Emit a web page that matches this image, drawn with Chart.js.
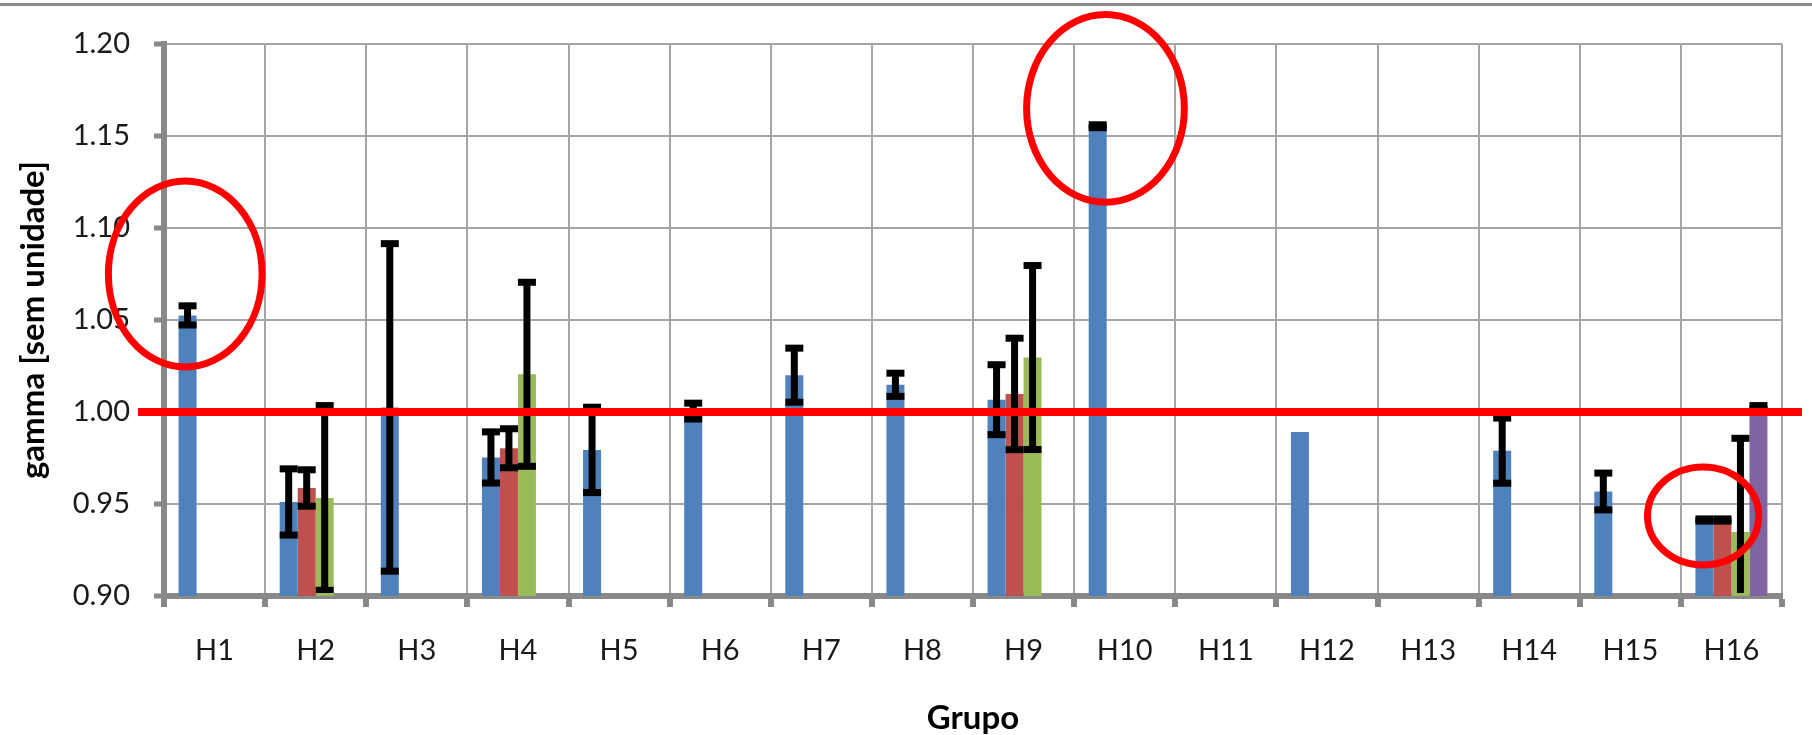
<!DOCTYPE html>
<html>
<head>
<meta charset="utf-8">
<script src="https://cdn.jsdelivr.net/npm/chart.js@4.4.1/dist/chart.umd.min.js"></script>
<style>
  html, body { margin: 0; padding: 0; background: #fff; }
  #wrap { position: relative; width: 1812px; height: 735px; }
  #topline { position: absolute; left: 0; top: 3px; width: 1812px; height: 3px; background: #8c8c8c; }
  canvas { position: absolute; left: 0; top: 0; }
</style>
</head>
<body>
<div id="wrap">
  <canvas id="chart" width="1812" height="735"></canvas>
  <div id="topline"></div>
</div>
<script>
const grupos = ['H1', 'H2', 'H3', 'H4', 'H5', 'H6', 'H7', 'H8', 'H9', 'H10', 'H11', 'H12', 'H13', 'H14', 'H15', 'H16'];

// valores de gamma por serie (null = sem barra)
const serie1 = [1.0525, 0.9511, 1.0025, 0.9753, 0.9794, 1.0005, 1.0200, 1.0148, 1.0067, 1.1553, null, 0.9891, null, 0.9790, 0.9568, 0.9413];
const serie2 = [null, 0.9587, null, 0.9803, null, null, null, null, 1.0098, null, null, null, null, null, null, 0.9413];
const serie3 = [null, 0.9533, null, 1.0205, null, null, null, null, 1.0296, null, null, null, null, null, null, 0.9348];
const serie4 = [null, null, null, null, null, null, null, null, null, null, null, null, null, null, null, 1.0025];

// barras de erro (+/-)
const erro1 = [0.0052, 0.0180, 0.0890, 0.0139, 0.0232, 0.0043, 0.0147, 0.0063, 0.0190, 0.0008, null, null, null, 0.0177, 0.0100, 0.0006];
const erro2 = [null, 0.0099, null, 0.0106, null, null, null, null, 0.0303, null, null, null, null, null, null, 0.0006];
const erro3 = [null, 0.0502, null, 0.0500, null, null, null, null, 0.0500, null, null, null, null, null, null, 0.0509];
const erro4 = [null, null, null, null, null, null, null, null, null, null, null, null, null, null, null, 0.0010];

const valorReferencia = 1.0;

// destaques em vermelho: grupo, deslocamento (fração de categoria), valor central, raio x (categorias), raio y (valor)
const destaqueGrupos = ['H1', 'H10', 'H16'];
const destaqueDesloc = [-0.29, -0.19, -0.28];
const destaqueValor = [1.075, 1.165, 0.9435];
const destaqueRaioX = [0.76, 0.78, 0.55];
const destaqueRaioY = [0.0505, 0.051, 0.0266];

const errorBars = {
  id: 'errorBars',
  afterDatasetsDraw(chart) {
    const ctx = chart.ctx;
    const y = chart.scales.y;
    const area = chart.chartArea;
    ctx.save();
    ctx.beginPath();
    ctx.rect(area.left, area.top - 10, area.right - area.left, area.bottom - area.top + 7);
    ctx.clip();
    ctx.fillStyle = '#000';
    chart.data.datasets.forEach((ds, i) => {
      const meta = chart.getDatasetMeta(i);
      ds.erros.forEach((e, j) => {
        if (e == null || ds.data[j] == null) return;
        const bar = meta.data[j];
        const yTop = y.getPixelForValue(ds.data[j] + e);
        const yBot = y.getPixelForValue(ds.data[j] - e);
        ctx.fillRect(bar.x - 3.5, yTop, 7, yBot - yTop);
        ctx.fillRect(bar.x - 9, yTop - 3.5, 18, 7);
        ctx.fillRect(bar.x - 9, yBot - 3.5, 18, 7);
      });
    });
    ctx.restore();
  }
};

const marcas = {
  id: 'marcas',
  afterDraw(chart) {
    const ctx = chart.ctx;
    const x = chart.scales.x;
    const y = chart.scales.y;
    const area = chart.chartArea;
    const catW = (area.right - area.left) / grupos.length;
    ctx.save();
    // linha de referencia gamma = 1
    ctx.strokeStyle = '#ff0000';
    ctx.lineWidth = 8;
    const yRef = y.getPixelForValue(valorReferencia);
    ctx.beginPath();
    ctx.moveTo(area.left - 26, yRef);
    ctx.lineTo(area.right + 20, yRef);
    ctx.stroke();
    // elipses
    ctx.lineWidth = 7;
    destaqueGrupos.forEach((g, k) => {
      const cx = x.getPixelForValue(grupos.indexOf(g)) + destaqueDesloc[k] * catW;
      const cy = y.getPixelForValue(destaqueValor[k]);
      const rx = destaqueRaioX[k] * catW;
      const ry = Math.abs(y.getPixelForValue(destaqueValor[k] + destaqueRaioY[k]) - cy);
      ctx.beginPath();
      ctx.ellipse(cx, cy, rx, ry, 0, 0, Math.PI * 2);
      ctx.stroke();
    });
    ctx.restore();
  }
};

const cores = ['#4F81BD', '#C0504D', '#9BBB59', '#8064A2'];
const series = [serie1, serie2, serie3, serie4];
const erros = [erro1, erro2, erro3, erro4];

new Chart(document.getElementById('chart'), {
  type: 'bar',
  data: {
    labels: grupos,
    datasets: series.map((s, i) => ({
      label: 'Série ' + (i + 1),
      data: s,
      erros: erros[i],
      backgroundColor: cores[i],
      borderWidth: 0,
      barPercentage: 1.0,
      categoryPercentage: 0.712
    }))
  },
  options: {
    responsive: false,
    devicePixelRatio: 1,
    animation: false,
    layout: { padding: { left: 0, right: 30, top: 44, bottom: 0 } },
    plugins: { legend: { display: false }, tooltip: { enabled: false } },
    scales: {
      x: {
        afterFit: (s) => { s.height = 139; },
        grid: { color: '#a6a6a6', lineWidth: 2, tickLength: 11, tickWidth: 6, tickColor: '#898989' },
        border: { color: '#898989', width: 6 },
        ticks: { color: '#1a1a1a', font: { family: 'Lato', size: 29 }, padding: 26 },
        title: { display: true, text: 'Grupo', color: '#000', font: { family: 'Lato', size: 33, weight: 'bold', lineHeight: 1 }, padding: { top: 0, bottom: 0 } }
      },
      y: {
        min: 0.9,
        max: 1.2,
        afterFit: (s) => { s.width = 164; },
        grid: { color: '#a6a6a6', lineWidth: 2, tickLength: 10, tickWidth: 5, tickColor: '#898989' },
        border: { color: '#898989', width: 6 },
        ticks: { stepSize: 0.05, color: '#1a1a1a', font: { family: 'Lato', size: 29 }, padding: 24, callback: (v) => v.toFixed(2) },
        title: { display: true, text: 'gamma [sem unidade]', color: '#000', font: { family: 'Lato', size: 33, weight: 'bold', lineHeight: 1 }, padding: { top: 17, bottom: 0 } }
      }
    }
  },
  plugins: [errorBars, marcas]
});
</script>
</body>
</html>
